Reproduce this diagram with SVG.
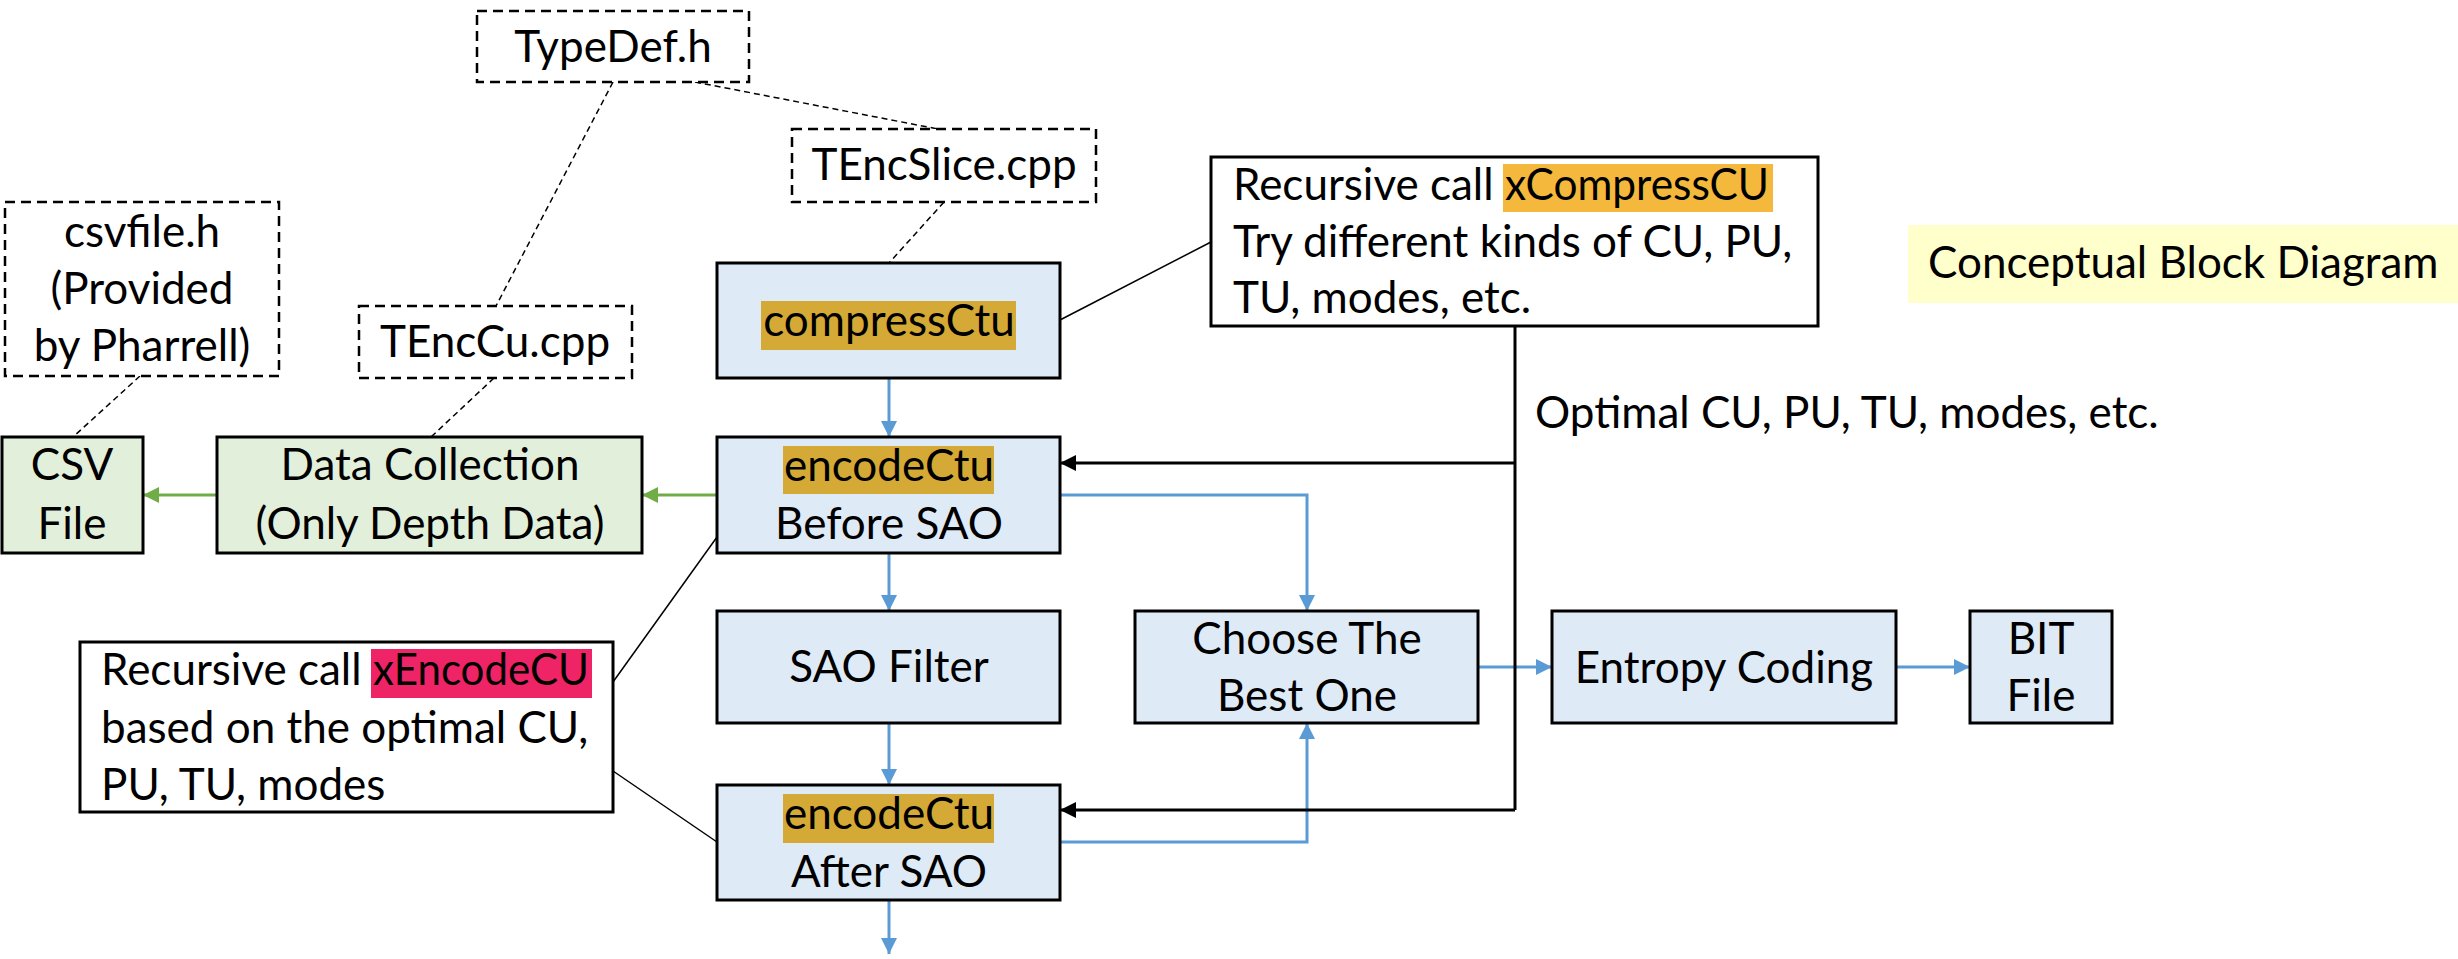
<svg xmlns="http://www.w3.org/2000/svg" width="2458" height="959" viewBox="0 0 2458 959">
<style>
text{font-family:Lato,"Liberation Sans",sans-serif;font-size:44px;fill:#000}
.c{text-anchor:middle}
.dbox{fill:#fff;stroke:#000;stroke-width:2.5;stroke-dasharray:10 6}
.blue{fill:#DEEAF6;stroke:#000;stroke-width:3}
.green{fill:#E2EFDA;stroke:#000;stroke-width:3}
.wbox{fill:#fff;stroke:#000;stroke-width:3}
.ab{fill:none;stroke:#5B9BD5;stroke-width:3;marker-end:url(#mb)}
.ag{fill:none;stroke:#70AD47;stroke-width:3;marker-end:url(#mg)}
.ak{fill:none;stroke:#000;stroke-width:3}
.akm{marker-end:url(#mk)}
.thin{fill:none;stroke:#000;stroke-width:1.5}
.dash{fill:none;stroke:#000;stroke-width:1.5;stroke-dasharray:6 4}
</style>
<defs>
<marker id="mb" markerUnits="userSpaceOnUse" markerWidth="16" markerHeight="16" viewBox="0 0 16 16" refX="16" refY="8" orient="auto"><path d="M0,0 L16,8 L0,16 z" fill="#5B9BD5"/></marker>
<marker id="mg" markerUnits="userSpaceOnUse" markerWidth="16" markerHeight="16" viewBox="0 0 16 16" refX="16" refY="8" orient="auto"><path d="M0,0 L16,8 L0,16 z" fill="#70AD47"/></marker>
<marker id="mk" markerUnits="userSpaceOnUse" markerWidth="16" markerHeight="16" viewBox="0 0 16 16" refX="16" refY="8" orient="auto"><path d="M0,0 L16,8 L0,16 z" fill="#000"/></marker>
</defs>
<rect width="2458" height="959" fill="#fff"/>

<g id="connectors">
<path class="dash" d="M613,82 L496,306"/>
<path class="dash" d="M695,82 L938,129"/>
<path class="dash" d="M944,202 L889,263"/>
<path class="dash" d="M140,376 L73,437"/>
<path class="dash" d="M494,378 L431,437"/>
<path class="thin" d="M1060,320 L1211,242"/>
<path class="thin" d="M613,682 L717,537"/>
<path class="thin" d="M613,771 L717,842"/>
<path class="ab" d="M889,378 V437"/>
<path class="ab" d="M889,553 V611"/>
<path class="ab" d="M889,723 V785"/>
<path class="ab" d="M889,900 V954"/>
<path class="ab" d="M1060,495 H1307 V611"/>
<path class="ab" d="M1060,842 H1307 V723"/>
<path class="ab" d="M1478,667 H1552"/>
<path class="ab" d="M1896,667 H1970"/>
<path class="ag" d="M717,495 H642"/>
<path class="ag" d="M217,495 H143"/>
<path class="ak" d="M1515,326 V810"/>
<path class="ak akm" d="M1515,463 H1060"/>
<path class="ak akm" d="M1515,810 H1060"/>
</g>

<g id="typedef">
<rect class="dbox" x="477" y="11" width="272" height="71"/>
<text class="c" x="613" y="62">TypeDef.h</text>
</g>
<g id="tencslice">
<rect class="dbox" x="792" y="129" width="304" height="73"/>
<text class="c" x="944" y="180">TEncSlice.cpp</text>
</g>
<g id="csvfileh">
<rect class="dbox" x="5" y="202" width="274" height="174"/>
<text class="c" x="142" y="247">csvfile.h</text>
<text class="c" x="142" y="304">(Provided</text>
<text class="c" x="142" y="361">by Pharrell)</text>
</g>
<g id="tenccu">
<rect class="dbox" x="359" y="306" width="273" height="72"/>
<text class="c" x="495" y="357">TEncCu.cpp</text>
</g>
<g id="compressctu">
<rect class="blue" x="717" y="263" width="343" height="115"/>
<rect x="761" y="301" width="255" height="49" fill="#D4A935"/>
<text class="c" x="889" y="336">compressCtu</text>
</g>
<g id="xcompress">
<rect class="wbox" x="1211" y="157" width="607" height="169"/>
<rect x="1503" y="164" width="270" height="48" fill="#F4B93C"/>
<text x="1233" y="200">Recursive call</text>
<text x="1505" y="200" textLength="264" lengthAdjust="spacingAndGlyphs">xCompressCU</text>
<text x="1233" y="257">Try different kinds of CU, PU,</text>
<text x="1233" y="313">TU, modes, etc.</text>
</g>
<g id="conceptual">
<rect x="1908" y="225" width="550" height="78" fill="#FFFFCC"/>
<text x="1928" y="278">Conceptual Block Diagram</text>
</g>
<g id="optimal-label">
<text x="1535" y="428">Optimal CU, PU, TU, modes, etc.</text>
</g>
<g id="csv">
<rect class="green" x="2" y="437" width="141" height="116"/>
<text class="c" x="72" y="480">CSV</text>
<text class="c" x="72" y="539">File</text>
</g>
<g id="datacollection">
<rect class="green" x="217" y="437" width="425" height="116"/>
<text class="c" x="430" y="480">Data Collection</text>
<text class="c" x="430" y="539">(Only Depth Data)</text>
</g>
<g id="encode-before">
<rect class="blue" x="717" y="437" width="343" height="116"/>
<rect x="783" y="446" width="211" height="48" fill="#D4A935"/>
<text class="c" x="889" y="481">encodeCtu</text>
<text class="c" x="889" y="539">Before SAO</text>
</g>
<g id="saofilter">
<rect class="blue" x="717" y="611" width="343" height="112"/>
<text class="c" x="889" y="682">SAO Filter</text>
</g>
<g id="choose">
<rect class="blue" x="1135" y="611" width="343" height="112"/>
<text class="c" x="1307" y="654">Choose The</text>
<text class="c" x="1307" y="711">Best One</text>
</g>
<g id="entropy">
<rect class="blue" x="1552" y="611" width="344" height="112"/>
<text class="c" x="1724" y="683">Entropy Coding</text>
</g>
<g id="bitfile">
<rect class="blue" x="1970" y="611" width="142" height="112"/>
<text class="c" x="2041" y="654">BIT</text>
<text class="c" x="2041" y="711">File</text>
</g>
<g id="xencode">
<rect class="wbox" x="80" y="642" width="533" height="170"/>
<rect x="371" y="649" width="221" height="49" fill="#EE2466"/>
<text x="101" y="685">Recursive call</text>
<text x="373" y="685" textLength="216" lengthAdjust="spacingAndGlyphs">xEncodeCU</text>
<text x="101" y="743">based on the optimal CU,</text>
<text x="101" y="800">PU, TU, modes</text>
</g>
<g id="encode-after">
<rect class="blue" x="717" y="785" width="343" height="115"/>
<rect x="783" y="794" width="211" height="49" fill="#D4A935"/>
<text class="c" x="889" y="829">encodeCtu</text>
<text class="c" x="889" y="887">After SAO</text>
</g>
</svg>
